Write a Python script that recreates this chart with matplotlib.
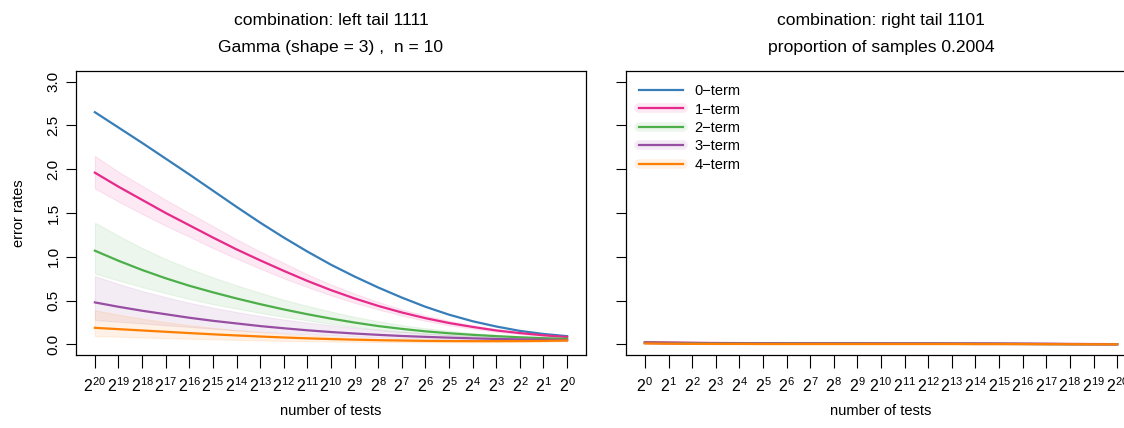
import numpy as np
import matplotlib
matplotlib.use("Agg")
import matplotlib.pyplot as plt
from matplotlib.lines import Line2D

plt.rcParams['font.family'] = ['Liberation Sans', 'DejaVu Sans']
plt.rcParams['mathtext.fontset'] = 'custom'
plt.rcParams['mathtext.rm'] = 'Liberation Sans'
plt.rcParams['font.size'] = 10.5

# exponents of the number of tests
exp_left = list(range(20, -1, -1))
exp_right = list(range(0, 21))

terms = ["0\u2212term", "1\u2212term", "2\u2212term", "3\u2212term", "4\u2212term"]
colors = ["#377EB8", "#E7298A", "#4DAF4A", "#984EA3", "#FF7F00"]

# left panel: left tail 1111
left_mid = [
    [2.65, 2.475, 2.30, 2.12, 1.94, 1.755, 1.57, 1.39, 1.22, 1.06, 0.91, 0.775, 0.65, 0.535, 0.43, 0.34, 0.265, 0.205, 0.155, 0.12, 0.095],
    [1.96, 1.80, 1.65, 1.50, 1.36, 1.22, 1.085, 0.96, 0.84, 0.725, 0.62, 0.525, 0.44, 0.365, 0.30, 0.245, 0.20, 0.16, 0.13, 0.105, 0.085],
    [1.07, 0.955, 0.85, 0.755, 0.67, 0.595, 0.525, 0.46, 0.40, 0.345, 0.295, 0.25, 0.21, 0.178, 0.15, 0.128, 0.11, 0.095, 0.082, 0.072, 0.065],
    [0.48, 0.43, 0.385, 0.345, 0.305, 0.27, 0.24, 0.21, 0.185, 0.162, 0.142, 0.125, 0.11, 0.097, 0.087, 0.078, 0.07, 0.063, 0.058, 0.054, 0.05],
    [0.19, 0.175, 0.16, 0.145, 0.13, 0.116, 0.103, 0.091, 0.08, 0.07, 0.062, 0.055, 0.049, 0.045, 0.041, 0.039, 0.038, 0.038, 0.039, 0.041, 0.045],
]
left_hi = [
    None,
    [2.15, 1.97, 1.81, 1.65, 1.50, 1.35, 1.20, 1.06, 0.93, 0.80, 0.685, 0.58, 0.485, 0.40, 0.33, 0.27, 0.22, 0.175, 0.14, 0.115, 0.09],
    [1.39, 1.24, 1.10, 0.975, 0.865, 0.765, 0.675, 0.59, 0.51, 0.44, 0.375, 0.315, 0.265, 0.22, 0.185, 0.155, 0.13, 0.11, 0.094, 0.08, 0.07],
    [0.78, 0.69, 0.61, 0.54, 0.475, 0.42, 0.37, 0.325, 0.285, 0.25, 0.218, 0.19, 0.165, 0.144, 0.125, 0.11, 0.097, 0.086, 0.077, 0.07, 0.065],
    [0.39, 0.34, 0.295, 0.255, 0.22, 0.19, 0.163, 0.14, 0.12, 0.103, 0.089, 0.078, 0.069, 0.062, 0.057, 0.053, 0.05, 0.049, 0.049, 0.051, 0.055],
]
left_lo = [
    None,
    [1.78, 1.63, 1.49, 1.355, 1.23, 1.10, 0.98, 0.865, 0.755, 0.655, 0.56, 0.475, 0.40, 0.33, 0.27, 0.22, 0.18, 0.145, 0.118, 0.096, 0.08],
    [0.81, 0.73, 0.655, 0.585, 0.52, 0.46, 0.41, 0.36, 0.315, 0.275, 0.235, 0.20, 0.17, 0.145, 0.123, 0.105, 0.092, 0.081, 0.072, 0.065, 0.06],
    [0.28, 0.26, 0.24, 0.22, 0.20, 0.18, 0.162, 0.145, 0.13, 0.116, 0.103, 0.092, 0.082, 0.073, 0.066, 0.06, 0.055, 0.05, 0.046, 0.043, 0.04],
    [0.095, 0.088, 0.08, 0.072, 0.065, 0.058, 0.052, 0.046, 0.041, 0.037, 0.034, 0.031, 0.029, 0.027, 0.026, 0.025, 0.025, 0.026, 0.028, 0.031, 0.035],
]

# right panel: right tail 1101
right_mid = [
    [0.022, 0.019, 0.017, 0.015, 0.014, 0.013, 0.012, 0.012, 0.011, 0.011, 0.010, 0.010, 0.010, 0.009, 0.009, 0.008, 0.007, 0.006, 0.005, 0.004, 0.003],
    [0.026, 0.022, 0.019, 0.017, 0.016, 0.015, 0.014, 0.014, 0.013, 0.013, 0.013, 0.012, 0.012, 0.011, 0.011, 0.010, 0.009, 0.008, 0.006, 0.005, 0.004],
    [0.020, 0.017, 0.015, 0.013, 0.012, 0.011, 0.011, 0.010, 0.010, 0.010, 0.009, 0.009, 0.009, 0.008, 0.008, 0.007, 0.006, 0.005, 0.004, 0.003, 0.003],
    [0.016, 0.013, 0.011, 0.010, 0.009, 0.009, 0.008, 0.008, 0.008, 0.008, 0.007, 0.007, 0.007, 0.007, 0.006, 0.006, 0.005, 0.004, 0.003, 0.003, 0.002],
    [0.012, 0.009, 0.007, 0.006, 0.006, 0.005, 0.005, 0.005, 0.005, 0.005, 0.005, 0.005, 0.005, 0.005, 0.004, 0.004, 0.004, 0.003, 0.003, 0.002, 0.002],
]
right_hi = [None,
    [0.038, 0.030, 0.025, 0.022, 0.020, 0.019, 0.018, 0.018, 0.017, 0.017, 0.016, 0.016, 0.015, 0.014, 0.014, 0.013, 0.012, 0.010, 0.008, 0.007, 0.006],
    None, None, None]
right_lo = [None,
    [0.016, 0.014, 0.013, 0.012, 0.012, 0.011, 0.011, 0.010, 0.010, 0.010, 0.010, 0.009, 0.009, 0.008, 0.008, 0.007, 0.006, 0.006, 0.004, 0.003, 0.002],
    None, None, None]

W, H = 1124, 428
fig = plt.figure(figsize=(W / 100, H / 100), dpi=100)
ax1 = fig.add_axes([76 / W, 73 / H, 510 / W, 284 / H])
ax2 = fig.add_axes([626 / W, 73 / H, 510 / W, 284 / H])


def draw(ax, mid, hi, lo, exps):
    x = np.arange(len(exps))
    for k in range(len(mid)):
        if hi[k] is not None:
            ax.fill_between(x, lo[k], hi[k], facecolor=colors[k], alpha=0.1,
                            edgecolor=colors[k], linewidth=0.8)
    for k in range(len(mid)):
        ax.plot(x, mid[k], color=colors[k], lw=1.6)
    ax.set_xlim(-0.8, len(exps) - 0.2)
    ax.set_ylim(-0.12, 3.12)
    ax.set_xticks(x)
    ax.set_xticklabels([r"$\mathregular{2^{%d}}$" % e for e in exps], fontsize=11.5)
    ax.set_yticks([0, 0.5, 1, 1.5, 2, 2.5, 3])
    ax.tick_params(axis='x', direction='out', length=9, width=0.8, pad=6)
    ax.tick_params(axis='y', direction='out', length=7, width=0.8, pad=4, labelsize=11)
    for s in ax.spines.values():
        s.set_linewidth(0.9)
    ax.set_xlabel("number of tests", labelpad=7)


draw(ax1, left_mid, left_hi, left_lo, exp_left)
draw(ax2, right_mid, right_hi, right_lo, exp_right)

ax1.set_yticklabels(["0.0", "0.5", "1.0", "1.5", "2.0", "2.5", "3.0"], rotation=90, va='center')
ax1.set_ylabel("error rates", labelpad=15)
ax2.set_yticklabels([])

ax1.set_title("combination: left tail 1111\nGamma (shape = 3) ,  n = 10", linespacing=2.0, pad=14)
ax2.set_title("combination: right tail 1101\nproportion of samples 0.2004", linespacing=2.0, pad=14)

handles = []
for k, c in enumerate(colors):
    line = Line2D([], [], color=c, lw=1.6)
    if k == 0:
        handles.append(line)
    else:
        band = Line2D([], [], color=c, lw=7, alpha=0.1, solid_capstyle='round')
        handles.append((band, line))
ax2.legend(handles, terms, loc='upper left', frameon=False, handlelength=3.0,
           handletextpad=0.8, labelspacing=0.3, borderaxespad=0.5,
           bbox_to_anchor=(0.0, 1.0))

fig.savefig("out.png", dpi=100)
